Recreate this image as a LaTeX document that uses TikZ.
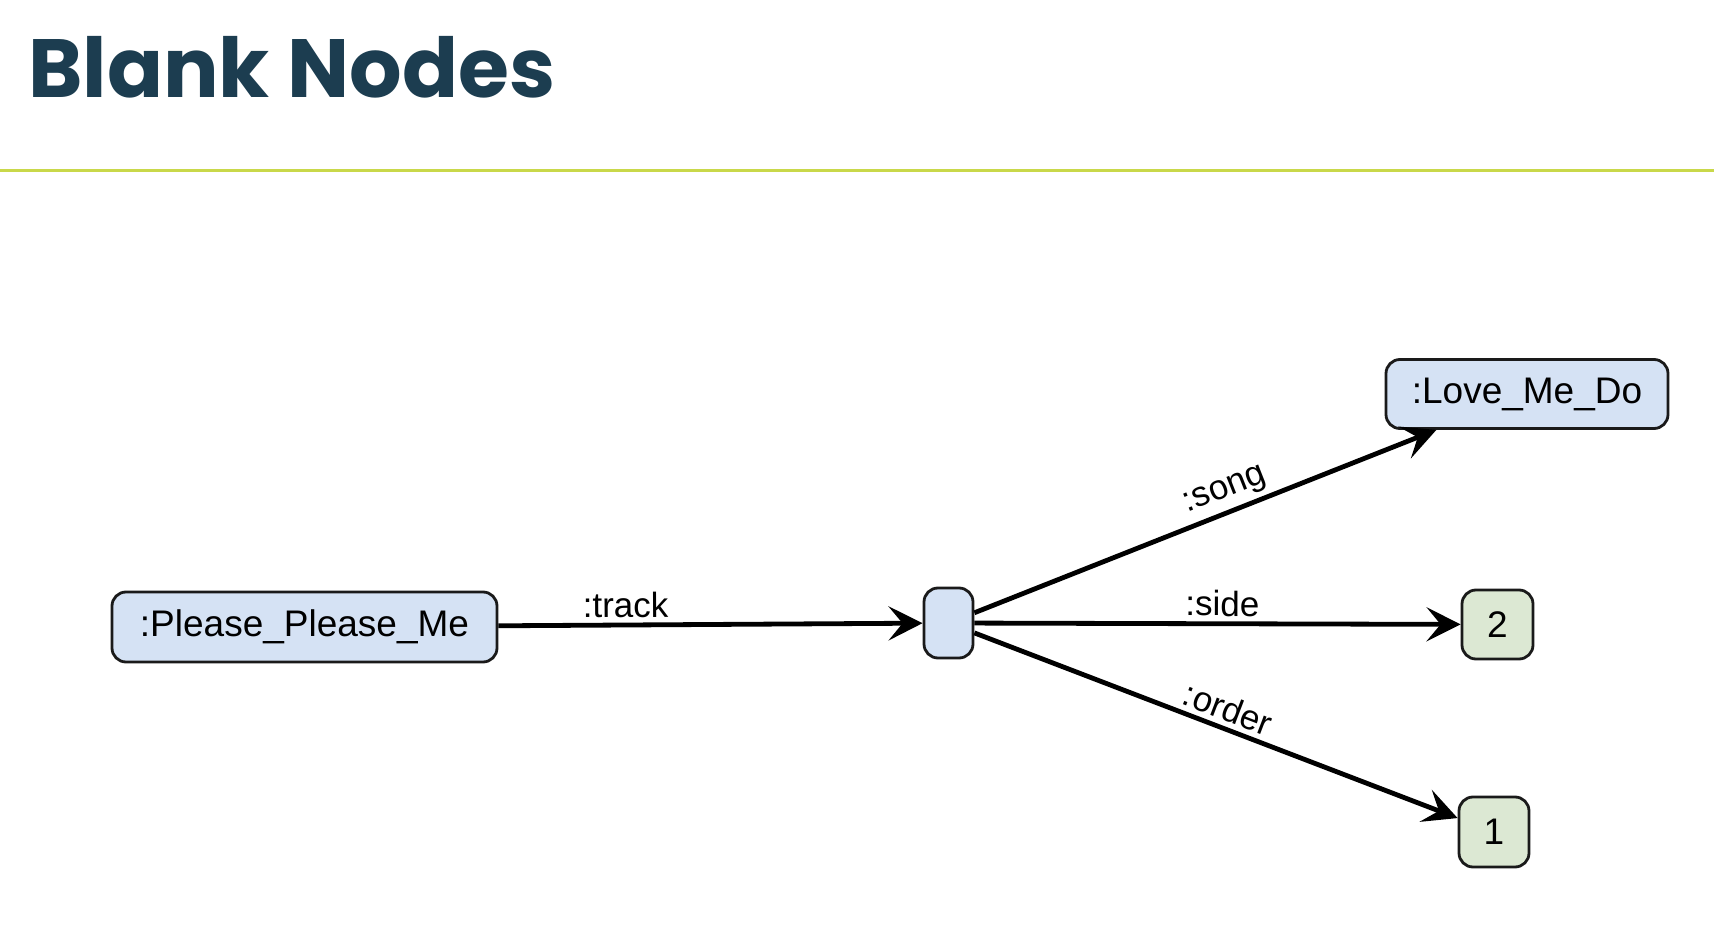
\documentclass[tikz,border=0pt]{standalone}
\usepackage{fontspec}
\setmainfont{Liberation Sans}
\newfontfamily\titlefont{Poppins}
\usetikzlibrary{arrows.meta}
\definecolor{titlecol}{HTML}{1C3D50}
\definecolor{rulecol}{HTML}{C9D84A}
\definecolor{bluefill}{HTML}{D5E2F4}
\definecolor{greenfill}{HTML}{DCE8D3}
\definecolor{edgecol}{HTML}{1A1A1A}
\tikzset{
  res/.style={draw=edgecol, line width=1.4pt, rounded corners=7pt, fill=bluefill,
    font=\fontsize{18.5pt}{22pt}\selectfont, inner sep=0pt, align=center},
  lit/.style={draw=edgecol, line width=1.4pt, rounded corners=7pt, fill=greenfill,
    font=\fontsize{18.5pt}{22pt}\selectfont, inner sep=0pt, align=center},
  edge/.style={draw=black, line width=2.4pt, -{Stealth[length=17pt,width=17pt,inset=7pt]}},
  elabel/.style={font=\fontsize{17.5pt}{20pt}\selectfont, sloped, above, inner sep=2.5pt}
}
\begin{document}
\begin{tikzpicture}[x=0.5pt,y=-0.5pt]
\useasboundingbox[fill=white] (0,0) rectangle (1714,930);
\node[anchor=base west, inner sep=0pt, text=titlecol, font=\titlefont\bfseries\fontsize{41.3pt}{48pt}\selectfont] (title) at (28,98) {Blank Nodes};
\draw[rulecol, line width=1.5pt] (0,171) -- (1714,171);
\node[res, minimum width=192.5pt, minimum height=35pt] (ppm) at (304.5,627) {:Please\_Please\_Me};
\node[res, minimum width=24.5pt, minimum height=35pt] (blank) at (948.5,623) {};
\node[res, minimum width=141pt, minimum height=34.5pt] (lmd) at (1527,394) {:Love\_Me\_Do};
\node[lit, minimum width=35.5pt, minimum height=34.5pt] (two) at (1497.5,624.5) {2};
\node[lit, minimum width=35pt, minimum height=35pt] (one) at (1494,832) {1};
\draw[edge] (ppm) -- node[elabel, pos=0.3] {:track} (blank);
\draw[edge] (blank) -- node[elabel, pos=0.56] {:song} (lmd);
\draw[edge] (blank) -- node[elabel, pos=0.51] {:side} (two);
\draw[edge] (blank) -- node[elabel, pos=0.51] {:order} (one);
\end{tikzpicture}
\end{document}
